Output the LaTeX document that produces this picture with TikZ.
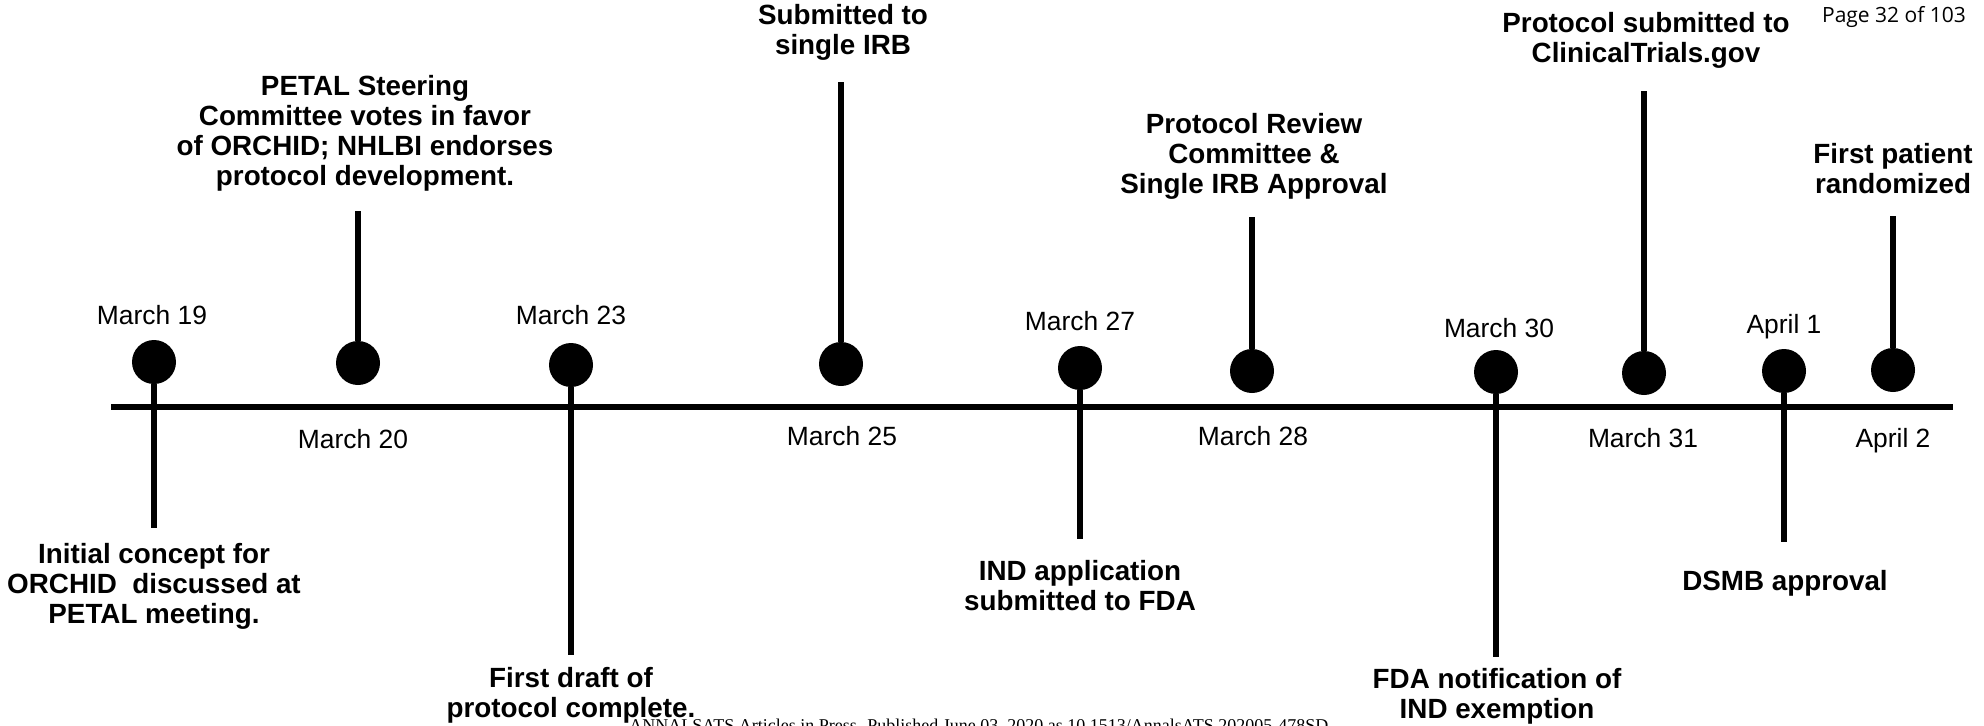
\documentclass[tikz,border=0pt]{standalone}
\usepackage{fontspec}
\setmainfont{Liberation Sans}
\newfontfamily\pagefont{Open Sans}
\newfontfamily\footfont{Liberation Serif}
\begin{document}
\begin{tikzpicture}[x=0.5pt,y=-0.5pt,
  dot/.style={circle,fill=black,inner sep=0pt,minimum size=22pt},
  stem/.style={line width=2.85pt},
  axis/.style={line width=3pt},
  datelbl/.style={font=\fontsize{13.2}{15}\selectfont,inner sep=0pt,anchor=base},
  evt/.style={font=\bfseries\fontsize{13.9}{15}\selectfont,align=center,inner sep=0pt,anchor=base},
]
\useasboundingbox (0,0) rectangle (1984,725);

% main axis
\coordinate (axL) at (111,407);
\coordinate (axR) at (1953,407);
\draw[axis] (axL) -- (axR);

% dots
\node[dot] (d1) at (154,362) {};
\node[dot] (d2) at (358,363) {};
\node[dot] (d3) at (571,365) {};
\node[dot] (d4) at (841,364) {};
\node[dot] (d5) at (1080,368) {};
\node[dot] (d6) at (1252,371) {};
\node[dot] (d7) at (1496,372) {};
\node[dot] (d8) at (1644,373) {};
\node[dot] (d9) at (1784,371) {};
\node[dot] (d10) at (1893,370) {};

% stem ends
\coordinate (e1) at (154,528);
\coordinate (e2) at (358,211);
\coordinate (e3) at (571,655);
\coordinate (e4) at (841,82);
\coordinate (e5) at (1080,539);
\coordinate (e6) at (1252,217);
\coordinate (e7) at (1496,657);
\coordinate (e8) at (1644,91);
\coordinate (e9) at (1784,542);
\coordinate (e10) at (1893,216);

\foreach \i in {1,...,10} \draw[stem] (d\i) -- (e\i);

% date labels
\node[datelbl] (t1) at (152,324) {March 19};
\node[datelbl] (t2) at (353,448) {March 20};
\node[datelbl] (t3) at (571,324) {March 23};
\node[datelbl] (t4) at (842,445) {March 25};
\node[datelbl] (t5) at (1080,330) {March 27};
\node[datelbl] (t6) at (1253,445) {March 28};
\node[datelbl] (t7) at (1499,337) {March 30};
\node[datelbl] (t8) at (1643,447) {March 31};
\node[datelbl] (t9) at (1784,333) {April 1};
\node[datelbl] (t10) at (1893,447) {April 2};

% event labels (anchored at the baseline of their last line)
\node[evt] (l1) at (154,623) {Initial concept for\\ORCHID~ discussed at\\PETAL meeting.};
\node[evt] (l2) at (365,185) {PETAL Steering\\Committee votes in favor\\of ORCHID; NHLBI endorses\\protocol development.};
\node[evt] (l3) at (571,717) {First draft of\\protocol complete.};
\node[evt] (l4) at (843,54) {Submitted to\\single IRB};
\node[evt] (l5) at (1080,610) {IND application\\submitted to FDA};
\node[evt] (l6) at (1254,193) {Protocol Review\\Committee \&\\Single IRB Approval};
\node[evt] (l7) at (1497,718) {FDA notification of\\IND exemption};
\node[evt] (l8) at (1646,62) {Protocol submitted to\\ClinicalTrials.gov};
\node[evt] (l9) at (1893,193) {First patient\\randomized};
\node[evt] (l10) at (1785,590) {DSMB approval};

% page header and footer
\node[anchor=base,inner sep=0pt,font=\pagefont\fontsize{10.5}{12}\selectfont] (pg) at (1894,22) {Page 32 of 103};
\node[anchor=base west,inner sep=0pt,font=\footfont\fontsize{9}{10}\selectfont] (foot) at (629,731) {ANNALSATS Articles in Press. Published June 03, 2020 as 10.1513/AnnalsATS.202005-478SD};
\end{tikzpicture}
\end{document}
